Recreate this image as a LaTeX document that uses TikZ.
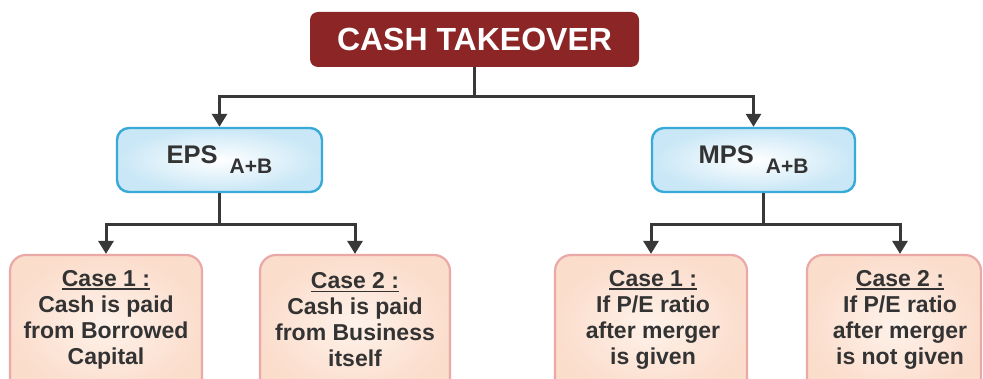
\documentclass[tikz,border=0pt]{standalone}
\usepackage{fontspec}
\setmainfont{Liberation Sans}
\usetikzlibrary{arrows.meta,shapes.misc}
\definecolor{titlered}{HTML}{8C2626}
\definecolor{bluebrd}{HTML}{38AAD8}
\definecolor{bluefill}{HTML}{C9E7F6}
\definecolor{pinkbrd}{HTML}{EAA8A6}
\definecolor{peachin}{HTML}{FEF2EA}
\definecolor{peachout}{HTML}{FBDDCC}
\definecolor{linegray}{HTML}{383838}
\definecolor{txtgray}{HTML}{333333}
\tikzset{
  titlebox/.style={rectangle, rounded corners=8pt, fill=titlered, text=white,
    minimum width=329pt, minimum height=55pt, inner sep=0pt,
    font=\fontsize{32}{32}\selectfont\bfseries},
  bluebox/.style={rectangle, rounded corners=12pt, draw=bluebrd, line width=2.4pt,
    inner color=white, outer color=bluefill, minimum height=64pt, inner sep=0pt,
    text=txtgray, font=\fontsize{25.5}{26}\selectfont\bfseries},
  casebox/.style={rectangle, rounded corners=16pt, draw=pinkbrd, line width=2.2pt,
    inner color=peachin, outer color=peachout, minimum height=140pt, inner sep=0pt},
  casetext/.style={align=center, text=txtgray, inner sep=0pt,
    font=\fontsize{23}{26}\selectfont\bfseries},
  conn/.style={draw=linegray, line width=3pt},
  arr/.style={conn, -{Triangle[width=15pt,length=13pt]}}
}
\newcommand{\subab}{\hspace{12pt}\raisebox{-10pt}{\fontsize{21}{21}\selectfont A+B}}
\newcommand{\caseul}[1]{\setbox0\hbox{#1}\rlap{\raisebox{-3.5pt}{\rule{\wd0}{1.8pt}}}\box0}
\begin{document}
\begin{tikzpicture}[x=1pt,y=-1pt]
\clip (0,0) rectangle (983,379);
\useasboundingbox (0,0) rectangle (983,379);

\node[titlebox] (title) at (474.5,39.5) {CASH TAKEOVER};
\node[bluebox, minimum width=205pt] (eps) at (219.5,160) {EPS\subab};
\node[bluebox, minimum width=203pt] (mps) at (753.5,160) {MPS\subab};

\node[casebox, minimum width=192pt] (c1) at (106,325) {};
\node[casebox, minimum width=190pt] (c2) at (355,325) {};
\node[casebox, minimum width=192pt] (c3) at (651,325) {};
\node[casebox, minimum width=174pt] (c4) at (894,325) {};

\node[casetext] (t1) at (106,320) {\caseul{Case 1 :}\\Cash is paid\\from Borrowed\\Capital};
\node[casetext] (t2) at (355,320) {\caseul{Case 2 :}\\Cash is paid\\from Business\\itself};
\node[casetext] (t3) at (653,320) {\caseul{Case 1 :}\\If P/E ratio\\after merger\\is given};
\node[casetext] (t4) at (900,320) {\caseul{Case 2 :}\\If P/E ratio\\after merger\\is not given};

\coordinate (j1) at (474.5,97);
\coordinate (j2) at (219.5,225);
\coordinate (j3) at (763,225);

\draw[conn] (title.south) -- (j1);
\draw[arr] (j1) -| (eps.north);
\draw[arr] (j1) -| (mps.north);

\draw[conn] (eps.south) -- (j2);
\draw[arr] (j2) -| (c1.north);
\draw[arr] (j2) -| (c2.north);

\draw[conn] (mps.south -| j3) -- (j3);
\draw[arr] (j3) -| (c3.north);
\draw[arr] (j3) -| ([xshift=6pt]c4.north);
\end{tikzpicture}
\end{document}
